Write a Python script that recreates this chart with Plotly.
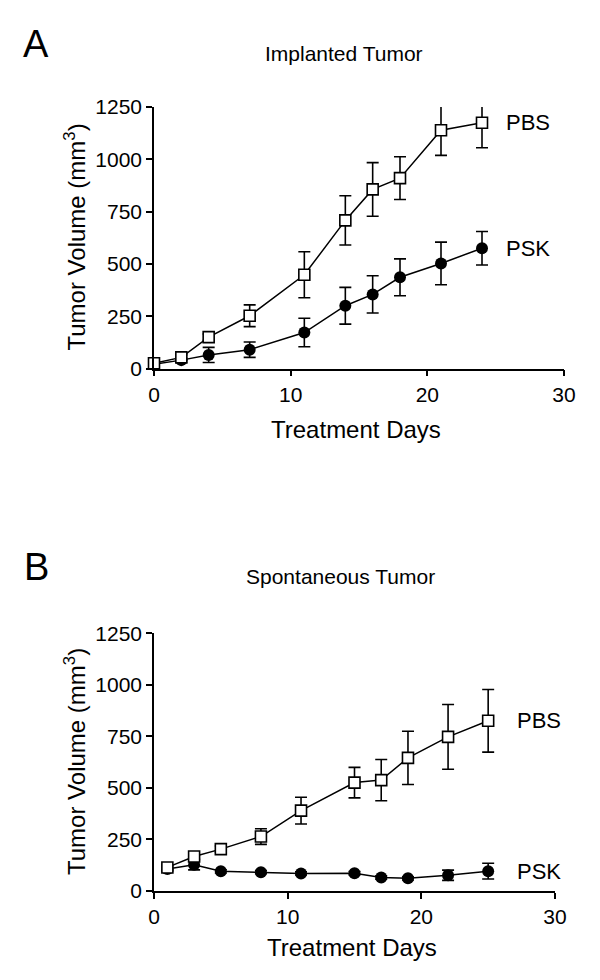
import plotly.graph_objects as go

# ---------------- data ----------------
# Panel A: Implanted Tumor
days_a = [0, 2, 4, 7, 11, 14, 16, 18, 21, 24]
pbs_a = [25, 53, 150, 252, 448, 708, 856, 910, 1139, 1175]
pbs_a_err = [10, 12, 15, 52, 110, 118, 128, 102, 120, 120]
psk_a = [20, 40, 65, 90, 172, 300, 354, 436, 502, 575]
psk_a_err = [8, 10, 36, 37, 68, 88, 89, 88, 102, 80]

# Panel B: Spontaneous Tumor
days_b = [1, 3, 5, 8, 11, 15, 17, 19, 22, 25]
pbs_b = [113, 166, 202, 263, 389, 525, 537, 645, 747, 825]
pbs_b_err = [12, 12, 15, 38, 65, 74, 100, 129, 157, 152]
psk_b = [105, 126, 94, 90, 84, 85, 64, 60, 75, 95]
psk_b_err = [10, 25, 8, 8, 8, 8, 8, 8, 25, 38]

y_ticks = [0, 250, 500, 750, 1000, 1250]
x_ticks = [0, 10, 20, 30]

FONT = "Liberation Sans, Arial, sans-serif"
W, H = 600, 980


def px(x):
    return x / W


def py(y):
    return 1 - y / H


fig = go.Figure()


def add_series(x, y, err, kind, xa, ya):
    if kind == "pbs":
        marker = dict(symbol="square", size=11, color="white",
                      line=dict(color="black", width=1.6))
    else:
        marker = dict(symbol="circle", size=12, color="black",
                      line=dict(color="black", width=0))
    fig.add_trace(go.Scatter(
        x=x, y=y, mode="lines+markers",
        line=dict(color="black", width=1.5),
        marker=marker,
        error_y=dict(type="data", array=err, visible=True,
                     color="black", thickness=1.6, width=6),
        cliponaxis=False, showlegend=False,
        xaxis=xa, yaxis=ya,
    ))


add_series(days_a, psk_a, psk_a_err, "psk", "x", "y")
add_series(days_a, pbs_a, pbs_a_err, "pbs", "x", "y")
add_series(days_b, psk_b, psk_b_err, "psk", "x2", "y2")
add_series(days_b, pbs_b, pbs_b_err, "pbs", "x2", "y2")

axis_common = dict(
    showline=True, linecolor="black", linewidth=1.6,
    ticks="outside", ticklen=6, tickwidth=1.6, tickcolor="black",
    showgrid=False, zeroline=False, mirror=False,
    tickfont=dict(family=FONT, size=21, color="black"),
    automargin=False,
)

fig.update_layout(
    width=W, height=H,
    margin=dict(l=0, r=0, t=0, b=0),
    paper_bgcolor="white", plot_bgcolor="white",
    font=dict(family=FONT, color="black"),
    xaxis=dict(domain=[px(154), px(564)], range=[0, 30], tickvals=x_ticks,
               anchor="y", **axis_common),
    yaxis=dict(domain=[py(368.5), py(107)], range=[0, 1250], tickvals=y_ticks,
               anchor="x", **axis_common),
    xaxis2=dict(domain=[px(154), px(555)], range=[0, 30], tickvals=x_ticks,
                anchor="y2", **axis_common),
    yaxis2=dict(domain=[py(890.7), py(633.3)], range=[0, 1250], tickvals=y_ticks,
                anchor="x2", **axis_common),
)

# axis titles
for xc, yc in [(356, 430), (352, 947)]:
    fig.add_annotation(x=px(xc), y=py(yc), xref="paper", yref="paper",
                       text="Treatment Days", showarrow=False,
                       xanchor="center", yanchor="middle",
                       font=dict(family=FONT, size=24, color="black"))
for xc, yc in [(75, 237.5), (75, 762)]:
    fig.add_annotation(x=px(xc), y=py(yc), xref="paper", yref="paper",
                       text="Tumor Volume (mm<sup>3</sup>)", showarrow=False,
                       textangle=-90, xanchor="center", yanchor="middle",
                       font=dict(family=FONT, size=24, color="black"))

# series labels at the end of each line
for xa, ya, days, vals, name, dx in [
    ("x", "y", days_a, pbs_a, "PBS", 1.6),
    ("x", "y", days_a, psk_a, "PSK", 1.6),
    ("x2", "y2", days_b, pbs_b, "PBS", 2.0),
    ("x2", "y2", days_b, psk_b, "PSK", 2.0),
]:
    fig.add_annotation(x=days[-1] + dx, y=vals[-1], xref=xa, yref=ya, text=name,
                       showarrow=False, xanchor="left", yanchor="middle",
                       font=dict(family=FONT, size=22, color="black"))

# panel titles and letters
fig.add_annotation(x=px(344), y=py(54), xref="paper", yref="paper",
                   text="Implanted Tumor", showarrow=False, xanchor="center", yanchor="middle",
                   font=dict(family=FONT, size=21, color="black"))
fig.add_annotation(x=px(340), y=py(576), xref="paper", yref="paper",
                   text="Spontaneous Tumor", showarrow=False, xanchor="center", yanchor="middle",
                   font=dict(family=FONT, size=21, color="black"))
fig.add_annotation(x=px(36), y=py(44), xref="paper", yref="paper",
                   text="A", showarrow=False, xanchor="center", yanchor="middle",
                   font=dict(family=FONT, size=38, color="black"))
fig.add_annotation(x=px(36), y=py(567), xref="paper", yref="paper",
                   text="B", showarrow=False, xanchor="center", yanchor="middle",
                   font=dict(family=FONT, size=38, color="black"))

fig.write_html("out.html", config={"displayModeBar": False},
               post_script="document.body.style.margin='0';")
